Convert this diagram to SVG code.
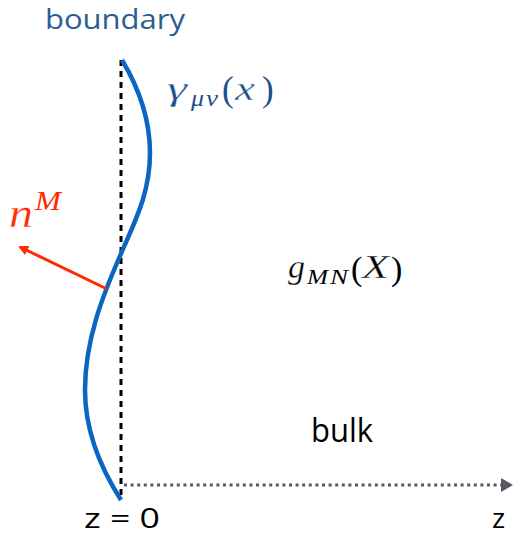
<svg xmlns="http://www.w3.org/2000/svg" width="514" height="538" viewBox="0 0 514 538">
<defs>
<style>
.sans{font-family:"Open Sans","DejaVu Sans",sans-serif;}
.math{font-family:"Liberation Serif","DejaVu Serif",serif;font-style:italic;stroke:#fff;stroke-width:0.35;}
.sub{font-family:"Liberation Serif","DejaVu Serif",serif;font-style:italic;}
.up{font-style:normal;font-family:"Liberation Serif","DejaVu Serif",serif;}
</style>
<marker id="redHead" markerWidth="10" markerHeight="10" refX="8" refY="5" orient="auto" markerUnits="userSpaceOnUse" viewBox="0 0 10 10">
<path d="M0,0 L10,5 L0,10 z" fill="#ff2a00"/>
</marker>
<marker id="grayHead" markerWidth="12" markerHeight="14" refX="11" refY="7" orient="auto" markerUnits="userSpaceOnUse" viewBox="0 0 12 14">
<path d="M0,0 L12,7 L0,14 z" fill="#555a60"/>
</marker>
</defs>
<rect width="514" height="538" fill="#fff"/>
<g id="connectors">
<line x1="121" y1="60" x2="121" y2="500" stroke="#000" stroke-width="3" stroke-dasharray="6,5"/>
<line x1="124" y1="485" x2="512" y2="485" stroke="#555a60" stroke-width="3" stroke-dasharray="3,3.6" marker-end="url(#grayHead)"/>
<path d="M122,60 C140,90 150,120 150,153 C150,195 133,225 120,256 C103,295 85,340 85,390 C85,435 105,475 121,500" fill="none" stroke="#0a66c2" stroke-width="4.5"/>
<line x1="107" y1="289" x2="20" y2="247" stroke="#ff2a00" stroke-width="3" marker-end="url(#redHead)"/>
</g>
<g id="boundary"><text x="45" y="29" class="sans" font-size="27" textLength="140" lengthAdjust="spacingAndGlyphs" fill="#2b5d91">boundary</text></g>
<g id="gamma" fill="#1d4f8a">
<text x="167" y="100" class="math" font-size="34" textLength="20" lengthAdjust="spacingAndGlyphs">γ</text>
<text x="191" y="106" class="sub" font-size="23" textLength="13" lengthAdjust="spacingAndGlyphs">μ</text>
<text x="206" y="106" class="sub" font-size="23" textLength="12" lengthAdjust="spacingAndGlyphs">ν</text>
<text x="222" y="101" class="up" font-size="35">(</text>
<text x="235" y="100" class="math" font-size="34" textLength="20" lengthAdjust="spacingAndGlyphs">x</text>
<text x="262" y="101" class="up" font-size="35">)</text>
</g>
<g id="normal" fill="#ff2a00">
<text x="9" y="227" class="math" font-size="42" textLength="24" lengthAdjust="spacingAndGlyphs">n</text>
<text x="35" y="210" class="sub" font-size="27" textLength="26" lengthAdjust="spacingAndGlyphs">M</text>
</g>
<g id="metric" fill="#000">
<text x="288" y="278" class="math" font-size="33" textLength="17" lengthAdjust="spacingAndGlyphs">g</text>
<text x="307" y="284" class="sub" font-size="22" textLength="21" lengthAdjust="spacingAndGlyphs">M</text>
<text x="330" y="284" class="sub" font-size="22" textLength="18" lengthAdjust="spacingAndGlyphs">N</text>
<text x="351" y="280" class="up" font-size="34">(</text>
<text x="362" y="278" class="math" font-size="33" textLength="27" lengthAdjust="spacingAndGlyphs">X</text>
<text x="391" y="280" class="up" font-size="34">)</text>
</g>
<g id="bulk"><text x="311" y="442" class="sans" font-size="33" textLength="62" lengthAdjust="spacingAndGlyphs" fill="#000">bulk</text></g>
<g id="z0"><text x="84" y="528" class="sans" font-size="28" textLength="76" lengthAdjust="spacingAndGlyphs" fill="#000">z = 0</text></g>
<g id="zlabel"><text x="492" y="528" class="sans" font-size="28" fill="#000">z</text></g>
</svg>
